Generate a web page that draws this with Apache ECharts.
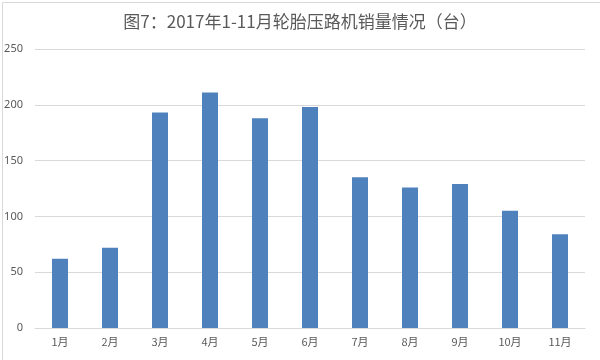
<!DOCTYPE html>
<html><head><meta charset="utf-8">
<script src="https://cdn.jsdelivr.net/npm/echarts@6/dist/echarts.min.js"></script>
<style>html,body{margin:0;padding:0;background:#fff}#c{width:600px;height:360px}</style>
</head><body><div id="c"></div>
<script>
const titleText = '图7：2017年1-11月轮胎压路机销量情况（台）';
const categories = ['1月','2月','3月','4月','5月','6月','7月','8月','9月','10月','11月'];
const sales = [62, 72, 193, 211, 188, 198, 135, 126, 129, 105, 84];
const yTicks = { min: 0, max: 250, interval: 50 };

const chart = echarts.init(document.getElementById('c'));
chart.setOption({
  animation: false,
  backgroundColor: '#ffffff',
  title: {
    text: titleText, left: 'center', top: 8,
    textStyle: { fontFamily: 'Noto Sans CJK SC', fontSize: 17, fontWeight: 'normal', color: '#595959' }
  },
  graphic: [{
    type: 'rect', left: 0, top: 0, silent: true,
    shape: { x: 0.5, y: 0.5, width: 599, height: 359 },
    style: { fill: 'none', stroke: '#d9d9d9', lineWidth: 1 }
  }],
  grid: { left: 35, right: 15, top: 49, bottom: 32 },
  xAxis: {
    type: 'category', data: categories,
    axisLine: { lineStyle: { color: '#d9d9d9' } },
    axisTick: { show: false },
    axisLabel: { color: '#595959', fontSize: 11, fontFamily: 'Noto Sans CJK SC', margin: 8 }
  },
  yAxis: {
    type: 'value', min: yTicks.min, max: yTicks.max, interval: yTicks.interval,
    axisLine: { show: false }, axisTick: { show: false },
    splitLine: { lineStyle: { color: '#d9d9d9' } },
    axisLabel: { color: '#595959', fontSize: 11, fontFamily: 'Noto Sans', margin: 12 }
  },
  series: [{
    type: 'bar', data: sales, barWidth: 16,
    itemStyle: { color: '#4f81bd' }
  }]
});
</script></body></html>
